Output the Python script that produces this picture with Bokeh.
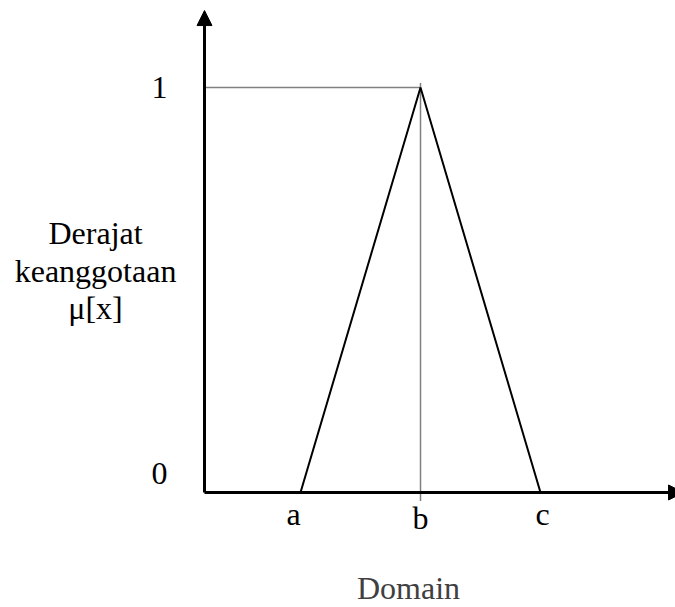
from bokeh.plotting import figure
from bokeh.models import Arrow, NormalHead
from bokeh.core.properties import value
from bokeh.embed import file_html
from bokeh.resources import INLINE

# Data: triangular membership function
point_labels = ["a", "b", "c"]
domain_x = [4, 9, 14]          # a, b, c positions on the domain
membership = [0, 1, 0]         # mu at a, b, c
y_ticks = [0, 1]
y_tick_labels = ["0", "1"]
y_title_lines = ["Derajat", "keanggotaan", "\u03bc[x]"]
x_title = "Domain"

FONT = value("Liberation Serif")

p = figure(width=675, height=607, output_backend="svg", toolbar_location=None,
           x_range=(-8.5, 19.625), y_range=(-0.28395, 1.21481),
           min_border=0, min_border_left=0, min_border_right=0,
           min_border_top=0, min_border_bottom=0)
p.axis.visible = False
p.grid.visible = False
p.outline_line_color = None
p.background_fill_color = "white"
p.border_fill_color = "white"

x_end = 19.96
y_top = 1.19

# axes with arrow heads
p.add_layout(Arrow(end=NormalHead(size=15, fill_color="black", line_color="black", line_width=1),
                   x_start=0, y_start=0, x_end=0, y_end=y_top, line_width=3, line_color="black"))
p.add_layout(Arrow(end=NormalHead(size=15, fill_color="black", line_color="black", line_width=1),
                   x_start=0, y_start=0, x_end=x_end, y_end=0, line_width=3, line_color="black"))

# dotted guides
b_x = domain_x[1]
p.line([0, b_x], [y_ticks[1], y_ticks[1]], line_color="black", line_width=1.5, line_dash="1 1")
p.line([b_x, b_x], [1.01, -0.02], line_color="black", line_width=1.5, line_dash="1 1")

# triangle
p.line(domain_x, membership, line_color="black", line_width=2)

# y tick labels
p.text(x=[-1.875, -1.875], y=y_ticks, text=y_tick_labels, text_font=FONT,
       text_font_size="32px", text_align="center", text_baseline="middle",
       y_offset=[-19, 0], text_color="black")

# x point labels
p.text(x=domain_x, y=[0, 0, 0], text=point_labels, text_font=FONT,
       text_font_size="32px", text_align="center", text_baseline="middle",
       x_offset=[-7, 0, 2], y_offset=[22, 26, 22], text_color="black")

# y title (three lines)
p.text(x=[-4.54] * 3, y=[0, 0, 0], text=y_title_lines, text_font=FONT,
       text_font_size="32px", text_align="center", text_baseline="middle",
       y_offset=[-259, -221, -184], text_color="black")

# x title
p.text(x=[8.5], y=[0], text=[x_title], text_font=FONT,
       text_font_size="32px", text_align="center", text_baseline="middle",
       y_offset=[96], text_color="#404040")

open("out.html", "w").write(file_html(p, INLINE))
